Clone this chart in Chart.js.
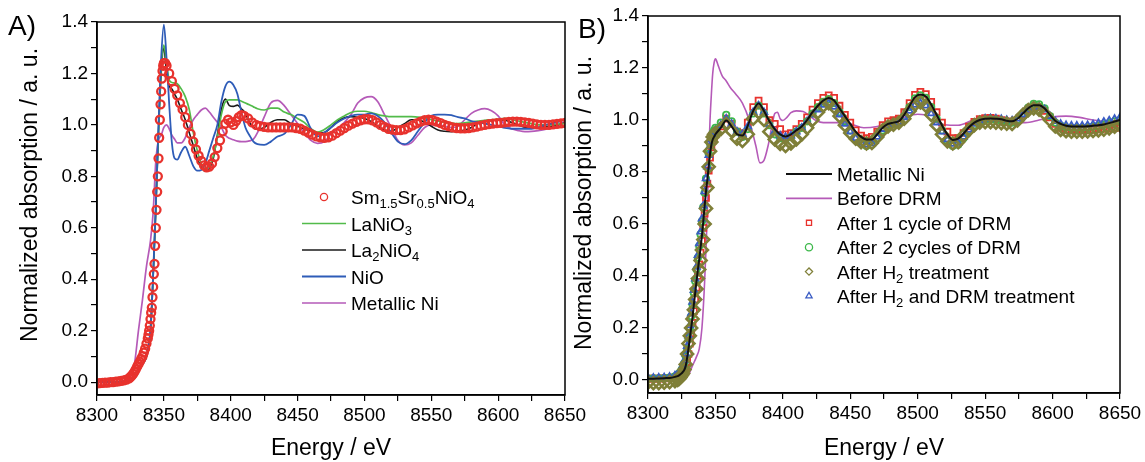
<!DOCTYPE html>
<html>
<head>
<meta charset="utf-8">
<script src="https://cdn.jsdelivr.net/npm/chart.js"></script>
<style>
  html, body { margin: 0; padding: 0; background: #fff; }
  #wrap { position: relative; width: 1145px; height: 462px; overflow: hidden; }
  canvas { position: absolute; top: 0; }
  #chartA { left: 0; }
  #chartB { left: 568px; }
</style>
</head>
<body>
<div id="wrap">
  <canvas id="chartA" width="600" height="462"></canvas>
  <canvas id="chartB" width="577" height="462"></canvas>
</div>
<script>
// axis ticks (minor + major)
const xTicks = [8300, 8325, 8350, 8375, 8400, 8425, 8450, 8475, 8500, 8525, 8550, 8575, 8600, 8625, 8650]
const yTicks = [0, 0.1, 0.2, 0.3, 0.4, 0.5, 0.6, 0.7, 0.8, 0.9, 1.0, 1.1, 1.2, 1.3, 1.4]

// ---- panel A : reference compounds ----
const energyA = [8300, 8310, 8320,
  8325, 8328, 8331, 8334, 8337,
  8340, 8342, 8344, 8346, 8348, 8350, 8352, 8354, 8356, 8358, 8360,
  8363, 8366, 8369, 8372, 8375, 8378, 8381, 8384, 8387, 8390, 8393, 8396, 8399, 8402, 8405, 8408, 8411, 8414, 8417, 8420,
  8425, 8430, 8435, 8440, 8445, 8450, 8455, 8460, 8465, 8470, 8475, 8480, 8485, 8490, 8495, 8500, 8505, 8510, 8515, 8520,
  8525, 8530, 8535, 8540, 8545, 8550, 8555, 8560, 8565, 8570, 8575, 8580, 8585, 8590, 8595, 8600, 8605, 8610, 8615, 8620,
  8625, 8630, 8635, 8640, 8645, 8650]

const laNiO3 = [0.0, 0.0, 0.002,
  0.008, 0.025, 0.05, 0.07, 0.1,
  0.2, 0.42, 0.68, 0.98, 1.22, 1.31, 1.24, 1.175, 1.165, 1.163, 1.16,
  1.14, 1.11, 1.06, 0.97, 0.9, 0.85, 0.83, 0.84, 0.88, 0.95, 1.04, 1.09, 1.097, 1.097, 1.097, 1.092, 1.085, 1.078, 1.07, 1.063,
  1.058, 1.065, 1.065, 1.05, 1.04, 1.025, 1.01, 0.985, 0.972, 0.982, 1.0, 1.02, 1.035, 1.048, 1.053, 1.053, 1.048, 1.04, 1.035, 1.032,
  1.032, 1.032, 1.032, 1.03, 1.028, 1.02, 1.015, 1.01, 1.007, 1.005, 1.008, 1.012, 1.015, 1.018, 1.02, 1.022, 1.025, 1.02, 1.015, 1.01,
  1.005, 1.0, 1.0, 1.0, 1.003, 1.005]

const la2NiO4 = [0.0, 0.0, 0.002,
  0.008, 0.025, 0.05, 0.07, 0.1,
  0.19, 0.41, 0.67, 0.97, 1.2, 1.3, 1.2, 1.15, 1.14, 1.12, 1.1,
  1.06, 1.02, 0.97, 0.92, 0.87, 0.835, 0.82, 0.83, 0.87, 0.96, 1.06, 1.1, 1.075, 1.072, 1.077, 1.063, 1.045, 1.01, 0.99, 0.982,
  0.99, 1.01, 1.02, 1.02, 1.005, 0.995, 0.985, 0.975, 0.968, 0.97, 0.99, 1.015, 1.028, 1.032, 1.03, 1.025, 1.013, 0.995, 0.98, 0.975,
  0.99, 1.005, 1.02, 1.02, 1.01, 0.995, 0.98, 0.975, 0.974, 0.976, 0.98, 0.99, 1.005, 1.012, 1.018, 1.02, 1.018, 1.01, 1.0, 0.99,
  0.987, 0.99, 0.993, 0.995, 1.0, 1.008]

const niO = [0.0, 0.0, 0.002,
  0.008, 0.025, 0.05, 0.07, 0.1,
  0.21, 0.42, 0.69, 1.0, 1.26, 1.39, 1.26, 1.08, 0.93, 0.87, 0.865,
  0.895, 0.915, 0.88, 0.84, 0.822, 0.825, 0.85, 0.9, 0.95, 1.0, 1.09, 1.15, 1.168, 1.155, 1.12, 1.05, 0.99, 0.96, 0.935, 0.925,
  0.922, 0.935, 0.955, 0.965, 1.0, 1.04, 1.035, 0.985, 0.955, 0.97, 0.99, 1.01, 1.025, 1.035, 1.04, 1.04, 1.045, 1.035, 1.01, 0.97,
  0.935, 0.925, 0.94, 0.975, 1.01, 1.035, 1.04, 1.04, 1.038, 1.03, 1.025, 1.015, 1.01, 1.005, 1.0, 0.995, 0.988, 0.985, 0.985, 0.985,
  0.985, 0.99, 1.0, 1.005, 1.012, 1.02]

const metallicNiA = [0.0, 0.0, 0.005,
  0.02, 0.07, 0.2, 0.32, 0.45,
  0.55, 0.66, 0.86, 0.94, 0.96, 0.99, 1.0, 0.985, 0.96, 0.945, 0.93,
  0.93, 0.95, 0.99, 1.02, 1.04, 1.058, 1.065, 1.05, 1.03, 1.01, 0.99, 0.96, 0.948, 0.942, 0.937, 0.935, 0.935, 0.938, 0.945, 0.97,
  1.03, 1.085, 1.095, 1.075, 1.04, 1.005, 0.97, 0.94, 0.928, 0.935, 0.965, 0.985, 1.01, 1.04, 1.085, 1.105, 1.11, 1.09, 1.04, 0.99,
  0.94, 0.922, 0.93, 0.96, 0.99, 1.0, 1.0, 0.995, 0.99, 0.995, 1.02, 1.045, 1.058, 1.063, 1.055, 1.035, 1.0, 0.985, 0.978, 0.974,
  0.975, 0.978, 0.982, 0.99, 1.0, 1.012]

const energySm = [8300, 8302, 8304, 8306, 8308, 8310, 8312, 8314, 8316, 8318, 8320, 8322, 8324,
  8325, 8326, 8327, 8328, 8329, 8330, 8331, 8332, 8333, 8334, 8335, 8336, 8337,
  8338, 8338.5, 8339, 8339.5, 8340, 8340.5, 8341, 8341.5, 8342, 8342.5, 8343, 8343.5, 8344, 8344.5,
  8345, 8345.5, 8346, 8346.5, 8347, 8347.5, 8348, 8348.5, 8349, 8349.5, 8350, 8351,
  8352, 8354, 8356, 8358, 8360, 8362, 8364, 8366, 8368, 8370, 8372, 8374, 8376, 8378, 8380,
  8382, 8384, 8386, 8388, 8390, 8392, 8394, 8396, 8398, 8400, 8402, 8404, 8406, 8408, 8410,
  8413, 8416, 8419, 8422, 8425, 8428, 8431, 8434, 8437, 8440, 8443, 8446, 8449, 8452, 8455, 8458, 8461, 8464, 8467, 8470,
  8473, 8476, 8479, 8482, 8485, 8488, 8491, 8494, 8497, 8500, 8503, 8506, 8509, 8512, 8515, 8518, 8521, 8524, 8527, 8530,
  8533, 8536, 8539, 8542, 8545, 8548, 8551, 8554, 8557, 8560, 8563, 8566, 8569, 8572, 8575, 8578, 8581, 8584, 8587, 8590,
  8593, 8596, 8599, 8602, 8605, 8608, 8611, 8614, 8617, 8620, 8623, 8626, 8629, 8632, 8635, 8638, 8641, 8644, 8647, 8650]

const sm15Sr05NiO4 = [-0.005, -0.004, -0.003, -0.002, -0.002, 0.0, 0.0, 0.002, 0.003, 0.005, 0.007, 0.01, 0.015,
  0.02, 0.025, 0.032, 0.04, 0.05, 0.06, 0.07, 0.08, 0.09, 0.1, 0.115, 0.13, 0.15,
  0.17, 0.185, 0.2, 0.22, 0.245, 0.27, 0.29, 0.33, 0.37, 0.42, 0.46, 0.53, 0.6, 0.67,
  0.74, 0.8, 0.87, 0.95, 1.02, 1.08, 1.13, 1.18, 1.21, 1.23, 1.24, 1.24,
  1.23, 1.2, 1.17, 1.14, 1.115, 1.085, 1.06, 1.03, 1.0, 0.965, 0.935, 0.905, 0.88, 0.86, 0.843,
  0.835, 0.838, 0.85, 0.875, 0.91, 0.94, 0.975, 1.005, 1.02, 1.01, 1.0, 1.015, 1.03, 1.038, 1.035,
  1.025, 1.01, 1.0, 0.995, 0.992, 0.99, 0.99, 0.99, 0.99, 0.99, 0.99, 0.99, 0.988, 0.985, 0.978, 0.97, 0.962, 0.955, 0.952, 0.95,
  0.952, 0.958, 0.968, 0.978, 0.988, 0.997, 1.005, 1.012, 1.018, 1.022, 1.022, 1.018, 1.01, 1.0, 0.992, 0.985, 0.982, 0.98, 0.98, 0.983,
  0.99, 0.998, 1.006, 1.013, 1.018, 1.02, 1.018, 1.013, 1.007, 1.0, 0.995, 0.99, 0.988, 0.987, 0.987, 0.988, 0.99, 0.993, 0.997, 1.0,
  1.003, 1.005, 1.007, 1.008, 1.01, 1.012, 1.013, 1.013, 1.012, 1.01, 1.008, 1.005, 1.002, 1.0, 1.0, 1.0, 1.002, 1.004, 1.006, 1.008]

// ---- panel B : catalyst under treatment ----
const energyB = [8300, 8304, 8308, 8312, 8316, 8320,
  8322, 8323, 8324, 8325, 8326, 8327, 8328, 8329, 8330, 8331, 8332, 8333, 8334, 8335,
  8336, 8337, 8338, 8339, 8340, 8341, 8342, 8343, 8344, 8345, 8346, 8347, 8348, 8349, 8350,
  8354, 8358, 8362, 8366, 8370, 8374, 8378, 8382, 8386, 8390,
  8394, 8398, 8402, 8406, 8410, 8414, 8418, 8422, 8426, 8430,
  8434, 8438, 8442, 8446, 8450, 8454, 8458, 8462, 8466, 8470,
  8474, 8478, 8482, 8486, 8490, 8494, 8498, 8502, 8506, 8510,
  8514, 8518, 8522, 8526, 8530, 8534, 8538, 8542, 8546, 8550,
  8554, 8558, 8562, 8566, 8570, 8574, 8578, 8582, 8586, 8590,
  8594, 8598, 8602, 8606, 8610, 8614, 8618, 8622, 8626, 8630,
  8634, 8638, 8642, 8646, 8650]

const metallicNiB = [0.005, 0.005, 0.006, 0.007, 0.008, 0.012,
  0.015, 0.018, 0.022, 0.026, 0.032, 0.04, 0.055, 0.085, 0.12, 0.16, 0.2, 0.24, 0.29, 0.335,
  0.38, 0.425, 0.465, 0.51, 0.555, 0.61, 0.67, 0.725, 0.77, 0.82, 0.87, 0.905, 0.925, 0.935, 0.945,
  0.97, 0.998, 0.975, 0.945, 0.94, 0.978, 1.035, 1.063, 1.035, 0.995,
  0.965, 0.945, 0.937, 0.945, 0.96, 0.975, 1.0, 1.03, 1.055, 1.075,
  1.085, 1.075, 1.045, 1.015, 0.985, 0.955, 0.935, 0.925, 0.925, 0.945,
  0.97, 0.985, 0.99, 0.995, 1.02, 1.055, 1.088, 1.098, 1.09, 1.06,
  1.02, 0.98, 0.945, 0.923, 0.928, 0.948, 0.972, 0.99, 1.0, 1.005,
  1.006, 1.005, 1.003, 0.997, 0.995, 1.005, 1.025, 1.045, 1.057, 1.057,
  1.045, 1.02, 0.997, 0.985, 0.978, 0.975, 0.975, 0.975, 0.976, 0.978,
  0.98, 0.983, 0.988, 0.994, 1.0]

const afterCycle1 = [0.005, 0.005, 0.005, 0.006, 0.007, 0.01,
  0.012, 0.015, 0.018, 0.022, 0.027, 0.034, 0.045, 0.07, 0.1, 0.14, 0.18, 0.22, 0.265, 0.31,
  0.355, 0.4, 0.445, 0.49, 0.535, 0.585, 0.64, 0.7, 0.755, 0.805, 0.855, 0.895, 0.92, 0.935, 0.945,
  0.975, 1.005, 0.985, 0.955, 0.95, 0.99, 1.05, 1.075, 1.05, 1.0,
  0.985, 0.965, 0.945, 0.95, 0.965, 0.985, 1.01, 1.04, 1.065, 1.085,
  1.095, 1.085, 1.055, 1.02, 0.99, 0.96, 0.94, 0.93, 0.935, 0.955,
  0.98, 0.995, 1.0, 1.005, 1.03, 1.065, 1.097, 1.108, 1.1, 1.07,
  1.03, 0.99, 0.955, 0.93, 0.93, 0.95, 0.975, 0.993, 1.003, 1.007,
  1.008, 1.005, 1.0, 0.995, 0.992, 1.0, 1.02, 1.04, 1.052, 1.05,
  1.035, 1.01, 0.985, 0.97, 0.962, 0.96, 0.96, 0.96, 0.96, 0.962,
  0.964, 0.966, 0.968, 0.97, 0.972]

const afterCycle2 = [0.005, 0.006, 0.006, 0.007, 0.009, 0.014,
  0.02, 0.025, 0.03, 0.04, 0.05, 0.065, 0.09, 0.12, 0.16, 0.2, 0.245, 0.29, 0.335, 0.38,
  0.425, 0.47, 0.515, 0.56, 0.61, 0.665, 0.72, 0.775, 0.82, 0.87, 0.91, 0.935, 0.95, 0.96, 0.97,
  0.99, 1.02, 0.995, 0.955, 0.935, 0.965, 1.025, 1.055, 1.025, 0.98,
  0.945, 0.93, 0.925, 0.935, 0.955, 0.97, 0.995, 1.025, 1.05, 1.07,
  1.08, 1.065, 1.03, 0.995, 0.96, 0.93, 0.91, 0.9, 0.905, 0.93,
  0.96, 0.978, 0.985, 0.99, 1.015, 1.05, 1.083, 1.095, 1.085, 1.05,
  1.005, 0.96, 0.92, 0.9, 0.905, 0.93, 0.96, 0.98, 0.993, 1.0,
  1.002, 1.0, 0.997, 0.993, 0.99, 1.0, 1.025, 1.048, 1.062, 1.06,
  1.045, 1.015, 0.99, 0.978, 0.972, 0.97, 0.97, 0.97, 0.972, 0.975,
  0.978, 0.982, 0.988, 0.995, 1.0]

const afterH2 = [-0.01, -0.012, -0.012, -0.01, -0.008, -0.004,
  0.0, 0.004, 0.01, 0.017, 0.025, 0.04, 0.06, 0.1, 0.14, 0.17, 0.2, 0.235, 0.27, 0.31,
  0.35, 0.39, 0.425, 0.46, 0.5, 0.54, 0.6, 0.66, 0.74, 0.82, 0.88, 0.915, 0.935, 0.945, 0.95,
  0.965, 0.985, 0.958, 0.928, 0.92, 0.945, 1.005, 1.03, 1.0, 0.955,
  0.925, 0.908, 0.9, 0.91, 0.925, 0.945, 0.97, 1.0, 1.03, 1.055,
  1.065, 1.05, 1.015, 0.98, 0.95, 0.928, 0.915, 0.91, 0.912, 0.935,
  0.96, 0.975, 0.982, 0.99, 1.005, 1.035, 1.06, 1.068, 1.055, 1.02,
  0.98, 0.945, 0.918, 0.91, 0.915, 0.94, 0.962, 0.98, 0.99, 0.992,
  0.992, 0.99, 0.988, 0.986, 0.985, 0.998, 1.02, 1.038, 1.045, 1.04,
  1.025, 1.0, 0.975, 0.962, 0.957, 0.955, 0.955, 0.955, 0.956, 0.958,
  0.96, 0.963, 0.968, 0.974, 0.98]

const afterH2Drm = [0.008, 0.008, 0.009, 0.01, 0.012, 0.017,
  0.022, 0.028, 0.035, 0.045, 0.058, 0.075, 0.1, 0.13, 0.17, 0.21, 0.255, 0.3, 0.345, 0.39,
  0.435, 0.48, 0.525, 0.57, 0.62, 0.67, 0.725, 0.775, 0.82, 0.865, 0.9, 0.925, 0.94, 0.95, 0.96,
  0.98, 1.005, 0.985, 0.955, 0.945, 0.975, 1.03, 1.055, 1.03, 0.985,
  0.955, 0.94, 0.935, 0.94, 0.955, 0.97, 0.995, 1.02, 1.04, 1.058,
  1.065, 1.05, 1.02, 0.985, 0.955, 0.93, 0.912, 0.905, 0.91, 0.935,
  0.965, 0.98, 0.988, 0.992, 1.01, 1.035, 1.058, 1.065, 1.055, 1.025,
  0.99, 0.955, 0.925, 0.908, 0.912, 0.935, 0.962, 0.985, 0.998, 1.005,
  1.006, 1.005, 1.003, 1.0, 0.998, 1.005, 1.02, 1.04, 1.05, 1.05,
  1.04, 1.015, 0.995, 0.985, 0.98, 0.978, 0.978, 0.978, 0.98, 0.983,
  0.988, 0.993, 0.998, 1.004, 1.01]

const energyBefore = [8300, 8320, 8330, 8333, 8336, 8338, 8340, 8342, 8344, 8345,
  8346, 8347, 8348, 8349, 8350, 8352, 8355, 8358, 8361, 8365,
  8370, 8375, 8380, 8383, 8386, 8389, 8392, 8394, 8396, 8398,
  8400, 8403, 8406, 8410, 8415, 8420, 8425, 8430, 8440, 8450,
  8460, 8470, 8480, 8490, 8500, 8505, 8510, 8520, 8530, 8540,
  8550, 8560, 8570, 8580, 8590, 8600, 8610, 8620, 8630, 8640, 8650]

const beforeDrm = [0.0, 0.0, 0.02, 0.055, 0.09, 0.12, 0.2, 0.38, 0.65, 0.86,
  1.0, 1.1, 1.18, 1.22, 1.235, 1.21, 1.17, 1.15, 1.125, 1.1,
  1.065, 1.0, 0.9, 0.835, 0.845, 0.9, 0.98, 1.025, 1.03, 1.005,
  0.998, 1.01, 1.028, 1.035, 1.033, 1.015, 0.997, 0.99, 0.99, 0.985,
  0.97, 0.975, 0.99, 1.01, 1.022, 1.02, 1.0, 0.982, 0.98, 0.998,
  1.015, 0.998, 0.99, 0.99, 1.0, 1.012, 1.015, 1.01, 1.0, 0.995, 1.0]

;(() => {
  'use strict'

  const FONT = '"Liberation Sans", Arial, sans-serif'
  Chart.defaults.font.family = FONT
  Chart.defaults.color = '#000'

  const pts = (xs, ys) => xs.map((x, i) => ({ x, y: ys[i] }))

  const line = (label, xs, ys, color, width, order) => ({
    label, data: pts(xs, ys), order,
    borderColor: color, borderWidth: width,
    pointRadius: 0, pointHoverRadius: 0,
    cubicInterpolationMode: 'monotone'
  })

  // hollow markers; dense runs of them merge into a band like the original
  const marks = (label, xs, ys, color, style, radius, bw, order) => ({
    label, data: pts(xs, ys), order, showLine: false,
    borderColor: color, backgroundColor: 'rgba(255,255,255,0)',
    pointStyle: style, pointRadius: radius, pointHoverRadius: radius,
    pointBorderColor: color, pointBackgroundColor: 'rgba(255,255,255,0)', pointBorderWidth: bw
  })

  function drawMark (ctx, style, r, x, y) {
    ctx.beginPath()
    if (style === 'circle') {
      ctx.arc(x, y, r, 0, Math.PI * 2)
    } else if (style === 'rect') {
      const s = r * Math.SQRT1_2
      ctx.rect(x - s, y - s, 2 * s, 2 * s)
    } else if (style === 'rectRot') {
      ctx.moveTo(x - r, y); ctx.lineTo(x, y - r); ctx.lineTo(x + r, y); ctx.lineTo(x, y + r); ctx.closePath()
    } else {
      ctx.moveTo(x, y - r); ctx.lineTo(x + 0.866 * r, y + 0.5 * r); ctx.lineTo(x - 0.866 * r, y + 0.5 * r); ctx.closePath()
    }
    ctx.fill()
    ctx.stroke()
  }

  // label text with _{..} subscripts
  function drawRich (ctx, text, x, y) {
    const base = y + 7
    text.split(/_\{([^}]*)\}/).forEach((p, i) => {
      if (!p) return
      ctx.font = (i % 2 ? 13 : 19) + 'px ' + FONT
      ctx.fillText(p, x, i % 2 ? base + 4 : base)
      x += ctx.measureText(p).width
    })
  }

  // frame box, panel letter, y title and legend
  const deco = {
    id: 'deco',
    afterDraw (chart, args, o) {
      const { ctx, chartArea: a } = chart
      ctx.save()
      ctx.strokeStyle = '#000'
      ctx.lineWidth = 1.5
      ctx.strokeRect(a.left, a.top, a.right - a.left, a.bottom - a.top)

      ctx.fillStyle = '#000'
      ctx.textBaseline = 'alphabetic'
      ctx.font = '28px ' + FONT
      ctx.fillText(o.tag, o.tagX, o.tagY)

      ctx.save()
      ctx.translate(o.ytX, o.ytY)
      ctx.rotate(-Math.PI / 2)
      ctx.textAlign = 'center'
      ctx.textBaseline = 'middle'
      ctx.font = '23px ' + FONT
      ctx.fillText('Normalized absorption / a. u.', 0, 0)
      ctx.restore()

      chart.data.datasets.forEach((ds, i) => {
        const y = o.y + i * o.gap
        if (ds.showLine === false) {
          ctx.strokeStyle = ds.pointBorderColor
          ctx.fillStyle = '#fff'
          ctx.lineWidth = 1.3
          drawMark(ctx, ds.pointStyle, o.mr || ds.pointRadius, (o.x0 + o.x1) / 2, y)
        } else {
          ctx.strokeStyle = ds.borderColor
          ctx.lineWidth = ds.borderWidth
          ctx.beginPath()
          ctx.moveTo(o.x0, y)
          ctx.lineTo(o.x1, y)
          ctx.stroke()
        }
        ctx.fillStyle = '#000'
        drawRich(ctx, ds.label, o.textX, y)
      })
      ctx.restore()
    }
  }

  const axisStyle = {
    grid: { drawOnChartArea: false, color: '#000', lineWidth: 1.2, tickLength: 6 },
    border: { color: '#000', width: 1.5 }
  }

  function options (c) {
    return {
      responsive: false,
      animation: false,
      events: [],
      layout: { padding: c.pad },
      plugins: { legend: { display: false }, tooltip: { enabled: false }, deco: c.deco },
      scales: {
        x: {
          type: 'linear', min: 8300, max: 8650,
          afterBuildTicks: s => { s.ticks = xTicks.map(v => ({ value: v })) },
          afterFit: s => { s.height = c.xh; s.paddingLeft = 0; s.paddingRight = 0 },
          ticks: { autoSkip: false, maxRotation: 0, font: { size: 19 }, padding: 3,
            callback: v => (v % 50 === 0 ? String(v) : '') },
          title: { display: true, text: 'Energy / eV', font: { size: 23 }, padding: { top: 0, bottom: 0 } },
          ...axisStyle
        },
        y: {
          type: 'linear', min: -0.05, max: 1.4,
          afterBuildTicks: s => { s.ticks = yTicks.map(v => ({ value: v })) },
          afterFit: s => { s.width = c.yw; s.paddingTop = 0; s.paddingBottom = 0 },
          ticks: { autoSkip: false, font: { size: 19 }, padding: 3,
            callback: v => (Math.round(v * 10) % 2 === 0 ? v.toFixed(1) : '') },
          title: { display: false },
          ...axisStyle
        }
      }
    }
  }

  // eslint-disable-next-line no-unused-vars
  const chartA = new Chart(document.getElementById('chartA'), {
    type: 'line',
    data: {
      datasets: [
        marks('Sm_{1.5}Sr_{0.5}NiO_{4}', energySm, sm15Sr05NiO4, '#e8322d', 'circle', 4, 2.3, 0),
        line('LaNiO_{3}', energyA, laNiO3, '#52bb4a', 1.7, 2),
        line('La_{2}NiO_{4}', energyA, la2NiO4, '#1a1a1a', 1.6, 3),
        line('NiO', energyA, niO, '#2e5cb8', 1.8, 1),
        line('Metallic Ni', energyA, metallicNiA, '#b55ab8', 1.7, 4)
      ]
    },
    options: options({
      pad: { left: 0, right: 35, top: 22, bottom: 0 }, yw: 97, xh: 67,
      deco: { tag: 'A)', tagX: 8, tagY: 35, ytX: 31, ytY: 195, x0: 302, x1: 346, textX: 351, y: 197, gap: 26.5, mr: 3.6 }
    }),
    plugins: [deco]
  })

  // eslint-disable-next-line no-unused-vars
  const chartB = new Chart(document.getElementById('chartB'), {
    type: 'line',
    data: {
      datasets: [
        line('Metallic Ni', energyB, metallicNiB, '#111111', 2, 0),
        line('Before DRM', energyBefore, beforeDrm, '#b55ab8', 1.6, 5),
        marks('After 1 cycle of DRM', energyB, afterCycle1, '#e8322d', 'rect', 4.2, 1.8, 4),
        marks('After 2 cycles of DRM', energyB, afterCycle2, '#3cb84a', 'circle', 3.2, 1.8, 3),
        marks('After H_{2} treatment', energyB, afterH2, '#7f7f38', 'rectRot', 6, 2.6, 1),
        marks('After H_{2} and DRM treatment', energyB, afterH2Drm, '#3a5cc4', 'triangle', 3.8, 1.8, 2)
      ]
    },
    options: options({
      pad: { left: 0, right: 25, top: 16, bottom: 0 }, yw: 80, xh: 69,
      deco: { tag: 'B)', tagX: 10, tagY: 38, ytX: 17, ytY: 203, x0: 218, x1: 264, textX: 269, y: 174, gap: 24.4, mr: 3.6 }
    }),
    plugins: [deco]
  })
})()
</script>
</body>
</html>
